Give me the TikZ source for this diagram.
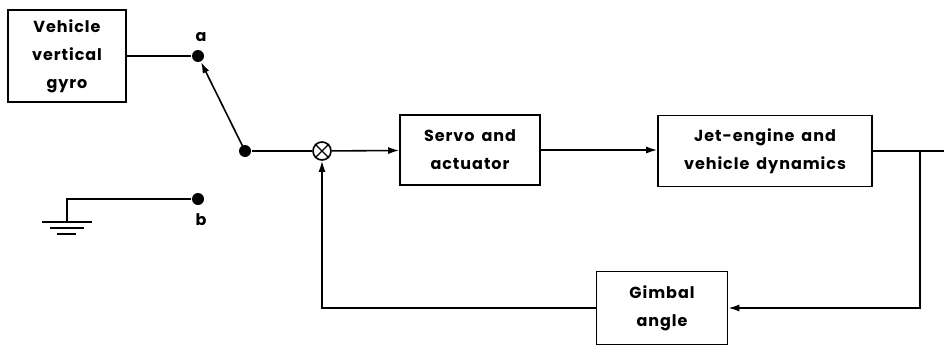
\documentclass[tikz,border=0pt]{standalone}
\usepackage{fontspec}
\setmainfont{Poppins}[LetterSpace=6,WordSpace=1.6]
\usetikzlibrary{arrows.meta}
\begin{document}
\begin{tikzpicture}[x=1pt,y=-1pt,
  line width=1.6pt,
  blk/.style={draw,rectangle,inner sep=0pt,align=center,font=\bfseries\fontsize{16}{28}\selectfont},
  dot/.style={circle,fill,inner sep=0pt,minimum size=12pt},
  arr/.style={-{Latex[length=11pt,width=7pt]}},
  lbl/.style={font=\bfseries\fontsize{16}{18}\selectfont}]
\useasboundingbox (0,0) rectangle (944,348);
% blocks
\node[blk,minimum width=118pt,minimum height=92pt] (gyro) at (67,56) {Vehicle\\vertical\\gyro};
\node[blk,minimum width=140pt,minimum height=70pt] (servo) at (470,150) {Servo and\\actuator};
\node[blk,minimum width=214pt,minimum height=71pt] (jet) at (765,151) {Jet-engine and\\vehicle dynamics};
\node[blk,minimum width=131pt,minimum height=73pt] (gimbal) at (662,308) {Gimbal\\angle};
% switch contacts
\node[dot] (a) at (198,56) {};
\node[dot] (b) at (198,199) {};
\node[dot] (piv) at (245,151) {};
\node[lbl] (la) at (201,37) {a};
\node[lbl] (lb) at (201,220) {b};
% summing junction
\node[draw,circle,minimum size=18pt,inner sep=0pt] (sum) at (322,151) {};
\draw[line width=1.3pt] (sum.north west) -- (sum.south east) (sum.north east) -- (sum.south west);
% coordinates
\coordinate (out) at (944,151);
\coordinate (br) at (920,151);
\coordinate (gnd) at (67,222);
% connections
\draw (gyro.east |- a) -- (a);
\draw[arr] (piv.center) -- (a);
\draw (piv) -- (sum);
\draw[arr] (sum) -- (servo);
\draw[arr] (servo) -- (jet.west |- servo);
\draw (jet.east |- br) -- (out);
\draw[arr] (br) |- (gimbal);
\draw[arr] (gimbal) -| (sum);
% ground
\draw (b) -| (gnd);
\draw (42,222) -- (92,222);
\draw (50,228) -- (84,228);
\draw (57,234) -- (76,234);
\end{tikzpicture}
\end{document}
